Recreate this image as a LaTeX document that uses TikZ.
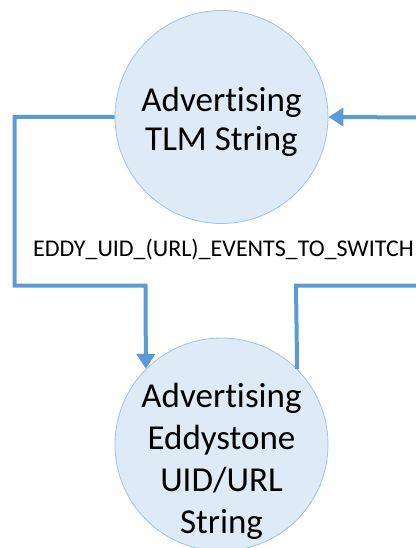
\documentclass[tikz,border=0pt]{standalone}
\usepackage{fontspec}
\setmainfont{Carlito}[Ligatures={NoCommon}]
\usetikzlibrary{arrows.meta}
\definecolor{linec}{HTML}{5B9BD5}
\definecolor{circfill}{HTML}{DEEBF7}
\definecolor{circdraw}{HTML}{9DC3E6}
\begin{document}
\begin{tikzpicture}[x=1pt,y=-1pt,
  state/.style={circle, minimum size=213pt, inner sep=0pt, fill=circfill, draw=circdraw, line width=0.8pt},
  conn/.style={draw=linec, line width=4pt, line join=miter},
  arr/.style={conn, -{Triangle[length=15pt,width=18pt]}},
  statetext/.style={align=center, anchor=base, inner sep=0pt},
  edgelabel/.style={font=\fontsize{24}{28}\selectfont, anchor=base, inner sep=0pt}]
\useasboundingbox (0,0) rectangle (415,548);
\node[state] (tlm) at (221.5,117) {};
\node[state] (eddy) at (221.5,444.5) {};
\node[statetext, font=\fontsize{35}{39.5}\selectfont] (tlmtext) at (221.5,151) {Advertising\\TLM String};
\node[statetext, font=\fontsize{35}{42}\selectfont] (eddytext) at (221.5,533) {Advertising\\Eddystone\\UID/URL\\String};
\node[edgelabel] (lbl) at (223.5,256) {EDDY\_UID\_(URL)\_EVENTS\_TO\_SWITCH};
\coordinate (l1) at (14.5,117);
\coordinate (l2) at (14.5,285.5);
\coordinate (l3) at (145.5,285.5);
\coordinate (r1) at (296,285.5);
\coordinate (r2) at (425,285.5);
\coordinate (r3) at (425,117.5);
\draw[arr] (tlm.west) -- (l1) -- (l2) -- (l3) -- (eddy.135.4);
\draw[conn] (eddy.45.6) -- (r1) -- (r2);
\draw[arr] (r3) -- (tlm.east);
\end{tikzpicture}
\end{document}
